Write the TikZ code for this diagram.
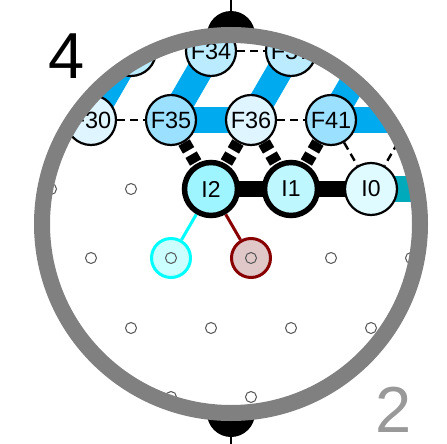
\documentclass[tikz,border=0pt]{standalone}
\usepackage{fontspec}
\setmainfont{Liberation Sans}
\definecolor{bluee}{HTML}{00AAEE}
\definecolor{teale}{HTML}{00AABB}
\definecolor{redd}{HTML}{880000}
\definecolor{cyann}{HTML}{00FFFF}
\definecolor{ringg}{HTML}{808080}
\definecolor{fa}{HTML}{DFF5FF}
\definecolor{fb}{HTML}{BBEBFF}
\definecolor{fc}{HTML}{9CE0FF}
\definecolor{ia}{HTML}{9FF5FF}
\definecolor{ib}{HTML}{BFF7FF}
\definecolor{ic}{HTML}{DFFBFF}
\pgfdeclarelayer{under}
\pgfdeclarelayer{edges}
\pgfsetlayers{under,edges,main}
\tikzset{
  x=1pt,y=-1pt,
  qb/.style={circle,draw=black,line width=2.2pt,minimum size=50pt,inner sep=0pt,font=\fontsize{23.5}{23.5}\selectfont},
  qi/.style={circle,draw=black,line width=5.5pt,minimum size=53pt,inner sep=0pt,font=\fontsize{23}{23}\selectfont},
  qo/.style={circle,draw=black,line width=2.2pt,minimum size=52pt,inner sep=0pt,font=\fontsize{23}{23}\selectfont},
  site/.style={circle,draw=black!67,fill=white,line width=1pt,minimum size=11pt,inner sep=0pt},
  anc/.style={circle,line width=3pt,minimum size=39pt,inner sep=0pt},
  pad/.style={circle,fill=black,minimum size=48pt,inner sep=0pt},
  cedge/.style={line width=26pt,draw=bluee},
  tedge/.style={line width=26pt,draw=teale},
  gedge/.style={line width=16pt,draw=black},
  dedge/.style={line width=2.4pt,draw=black,dash pattern=on 8pt off 5pt},
  tdedge/.style={line width=13pt,draw=black,dash pattern=on 9pt off 5pt},
  lead/.style={line width=2pt,draw=black},
  num/.style={font=\fontsize{65}{65}\selectfont,inner sep=0pt}
}
\newcommand{\discclip}{\clip (231,224) circle (189);}
\begin{document}
\begin{tikzpicture}
\useasboundingbox (0,0) rectangle (447,444);
\coordinate (topend) at (231,0);
\coordinate (botend) at (231,444);
\coordinate (T) at (451,189);
\begin{scope}
\discclip
\node[anc,draw=cyann,fill={rgb,255:red,204;green,255;blue,255}] (ac) at (171,258) {};
\node[anc,draw=redd,fill={rgb,255:red,224;green,200;blue,200}] (ar) at (251,258) {};
\node[site,fill=none] (sc) at (171,258) {};
\node[site,fill=none] (sr) at (251,258) {};
\node[qb,fill=fb] (F29) at (131,51) {};
\node[qb,fill=white] (F42) at (411,120) {};
\node[qb,fill=white] (F38) at (371,51) {};
\node[qb,fill=fa] (F30) at (91,120) {F30};
\node[qb,fill=fc] (F35) at (171,120) {F35};
\node[qb,fill=fa] (F36) at (251,120) {F36};
\node[qb,fill=fc] (F41) at (331,120) {F41};
\node[qb,fill=fb] (F34) at (211,51) {F34};
\node[qb,fill=fb] (F37) at (291,51) {F37};
\node[qi,fill=ia] (I2) at (211,189) {I2};
\node[qi,fill=ib] (I1) at (291,189) {I1};
\node[qo,fill=ic] (I0) at (371,189) {I0};
\end{scope}
\begin{pgfonlayer}{under}
\fill[white] (0,0) rectangle (447,444);
\node[pad] (padt) at (231,35) {};
\node[pad] (padb) at (231,413) {};
\draw[lead] (topend) -- (padt);
\draw[lead] (botend) -- (padb);
\fill[white] (231,224) circle (189);
\begin{scope}
\discclip
\foreach \n/\x/\y in {s1/51/189,s2/131/189,s3/91/258,s4/331/258,s5/411/258,s6/131/328,s7/211/328,s8/291/328,s9/371/328,s10/171/397,s11/251/397}{
  \node[site] (\n) at (\x,\y) {};
}
\end{scope}
\end{pgfonlayer}
\begin{pgfonlayer}{edges}
\begin{scope}
\discclip
\draw[cedge] (F30.center) -- (F29.center);
\draw[cedge] (F35.center) -- (F34.center);
\draw[cedge] (F36.center) -- (F37.center);
\draw[cedge] (F41.center) -- (F38.center);
\draw[cedge] (F35.center) -- (F36.center);
\draw[cedge] (F41.center) -- (F42.center);
\draw[tedge] (I0.center) -- (T);
\draw[gedge] (I2.center) -- (I1.center);
\draw[gedge] (I1.center) -- (I0.center);
\draw[dedge] (F30) -- (F35);
\draw[dedge] (F36) -- (F41);
\draw[dedge] (F34) -- (F37);
\draw[dedge] (F41) -- (I0);
\draw[dedge] (F42) -- (I0);
\draw[tdedge] (F35) -- (I2);
\draw[tdedge] (F36) -- (I2);
\draw[tdedge] (F36) -- (I1);
\draw[tdedge] (F41) -- (I1);
\draw[line width=3pt,draw=cyann] (I2) -- (ac);
\draw[line width=3pt,draw=redd] (I2) -- (ar);
\end{scope}
\end{pgfonlayer}
\node[circle,draw=ringg,line width=16pt,minimum size=378pt,inner sep=0pt,outer sep=0pt] (ring) at (231,224) {};
\node[num,text=black] (n4) at (67,56) {4};
\node[num,text=black!40] (n2) at (394,410) {2};
\end{tikzpicture}
\end{document}
